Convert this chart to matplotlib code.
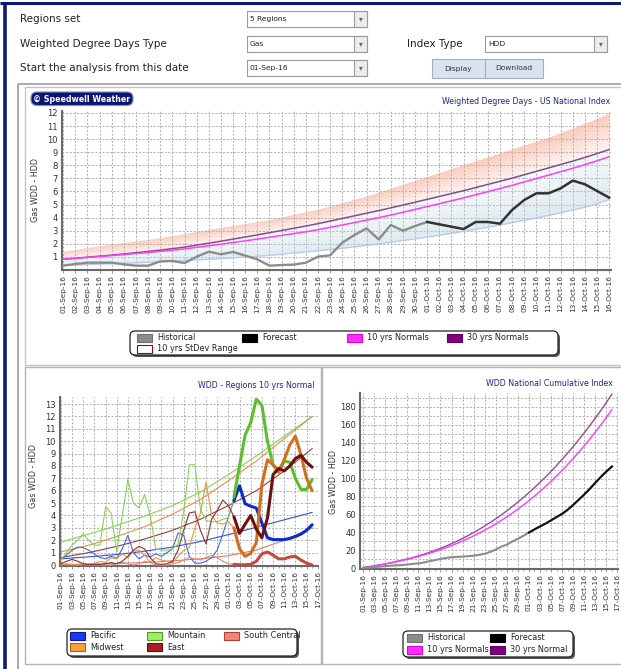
import numpy as np
import pandas as pd
import matplotlib
matplotlib.use("Agg")
import matplotlib.pyplot as plt
from matplotlib.patches import Rectangle, FancyBboxPatch

plt.rcParams['font.family'] = ['DejaVu Sans']
W, H = 621, 669

# ---------------- data ----------------
all_days = pd.date_range('2016-09-01', '2016-10-17')
day_labels = [d.strftime('%d-%b-%y') for d in all_days]      # 47 axis categories
top_labels = day_labels[:46]

historical = [0.33, 0.46, 0.56, 0.56, 0.56, 0.43, 0.33, 0.33, 0.66, 0.69, 0.53, 1.02, 1.4, 1.2,
              1.38, 1.1, 0.81, 0.33, 0.38, 0.41, 0.56, 1.02, 1.12, 2.09, 2.67, 3.18, 2.34, 3.44,
              3.0, 3.36, 3.67]
forecast = [3.67, 3.49, 3.31, 3.13, 3.67, 3.67, 3.54, 4.59, 5.35, 5.86, 5.86, 6.24, 6.83, 6.55,
            6.04, 5.53]
normals_30 = [0.82, 0.9, 0.98, 1.06, 1.14, 1.23, 1.32, 1.42, 1.52, 1.63, 1.75, 1.9, 2.05, 2.2,
              2.36, 2.52, 2.68, 2.85, 3.02, 3.19, 3.36, 3.54, 3.74, 3.94, 4.14, 4.34, 4.54, 4.75,
              4.96, 5.18, 5.4, 5.62, 5.84, 6.06, 6.3, 6.54, 6.78, 7.02, 7.28, 7.54, 7.8, 8.06,
              8.32, 8.6, 8.9, 9.2]
normals_10 = [0.82, 0.89, 0.96, 1.03, 1.10, 1.18, 1.26, 1.34, 1.42, 1.51, 1.61, 1.73, 1.85, 1.97,
              2.10, 2.23, 2.36, 2.50, 2.64, 2.78, 2.92, 3.08, 3.26, 3.44, 3.62, 3.81, 4.00, 4.20,
              4.41, 4.63, 4.85, 5.07, 5.29, 5.51, 5.75, 5.99, 6.23, 6.47, 6.73, 6.99, 7.25, 7.51,
              7.77, 8.05, 8.35, 8.65]
stdev_high = [1.45, 1.58, 1.72, 1.85, 1.98, 2.1, 2.22, 2.35, 2.48, 2.62, 2.78, 2.95, 3.1, 3.25,
              3.4, 3.55, 3.7, 3.85, 4.05, 4.25, 4.45, 4.65, 4.9, 5.15, 5.4, 5.65, 5.95, 6.25, 6.55,
              6.85, 7.15, 7.45, 7.75, 8.05, 8.35, 8.65, 8.95, 9.25, 9.55, 9.85, 10.15, 10.5, 10.85,
              11.2, 11.6, 12.0]
stdev_low = [0.35, 0.38, 0.42, 0.45, 0.48, 0.52, 0.55, 0.59, 0.63, 0.67, 0.72, 0.77, 0.82, 0.87,
             0.93, 0.99, 1.05, 1.12, 1.2, 1.3, 1.38, 1.47, 1.56, 1.66, 1.77, 1.88, 2.0, 2.12, 2.25,
             2.38, 2.52, 2.66, 2.8, 2.95, 3.11, 3.27, 3.44, 3.62, 3.8, 3.98, 4.17, 4.37, 4.58, 4.8,
             5.05, 5.4]

# regional values (index 0..45); forecast part starts at index 31
pacific = [0.45, 0.8, 1.2, 1.45, 1.4, 1.2, 0.9, 0.6, 0.5, 0.7, 0.55, 1.3, 2.4, 1.0, 0.5, 0.8, 0.65,
           0.9, 0.7, 1.0, 1.3, 2.6, 2.4, 0.7, 0.15, 0.15, 0.3, 0.6, 1.2, 2.5, 3.9, 5.2, 6.4, 4.95,
           4.75, 4.6, 3.4, 2.2, 2.05, 2.05, 2.05, 2.15, 2.3, 2.5, 2.8, 3.25]
mountain = [0.4, 1.0, 1.6, 2.0, 2.5, 2.0, 1.6, 1.6, 4.7, 4.2, 1.1, 4.0, 6.9, 5.0, 4.6, 5.7, 4.0,
            1.3, 1.2, 1.2, 1.3, 1.7, 4.3, 8.1, 8.1, 4.5, 3.6, 3.5, 3.5, 3.7, 3.8, 5.5, 8.0, 10.5,
            11.5, 13.4, 12.9, 10.0, 8.1, 7.6, 8.4, 8.3, 7.0, 6.1, 6.1, 6.9]
south_central = [0.0, 0.05, 0.0, 0.0, 0.05, 0.0, 0.0, 0.0, 0.0, 0.0, 0.1, 0.2, 0.1, 0.0, 0.1, 0.3,
                 0.2, 0.0, 0.0, 0.0, 0.1, 0.2, 0.4, 0.6, 0.5, 0.4, 0.6, 0.8, 0.6, 0.3, 0.1, 0.05,
                 0.02, 0.02, 0.05, 0.3, 0.9, 1.05, 0.8, 0.5, 0.5, 0.65, 0.7, 0.4, 0.15, 0.0]
midwest = [0.05, 0.1, 0.05, 0.05, 0.1, 0.05, 0.1, 0.3, 0.2, 0.6, 0.5, 0.9, 0.6, 1.1, 1.2, 0.8, 0.2,
           0.6, 0.4, 0.3, 0.2, 0.7, 1.2, 1.4, 3.0, 4.2, 6.7, 4.0, 3.4, 3.3, 3.5, 3.0, 1.3, 0.7,
           0.95, 1.8, 6.5, 8.5, 8.1, 7.5, 8.5, 9.7, 10.4, 8.9, 7.0, 6.0]
east = [0.1, 0.3, 0.45, 0.3, 0.1, 0.05, 0.05, 0.05, 0.1, 0.2, 0.1, 0.3, 0.7, 1.2, 1.5, 1.3, 0.6,
        0.1, 0.05, 0.1, 0.3, 1.2, 2.8, 4.2, 4.3, 2.8, 1.7, 3.7, 4.4, 5.25, 4.8, 3.9, 2.55, 3.3,
        4.0, 2.9, 2.2, 3.8, 7.3, 7.8, 7.6, 8.0, 8.6, 8.85, 8.3, 7.9]

pacific_normal = [0.5, 0.53, 0.56, 0.6, 0.63, 0.66, 0.7, 0.73, 0.77, 0.81, 0.85, 0.9, 0.95, 1.0,
                  1.06, 1.12, 1.18, 1.25, 1.31, 1.38, 1.45, 1.54, 1.63, 1.72, 1.81, 1.9, 2.01,
                  2.12, 2.23, 2.34, 2.45, 2.57, 2.69, 2.81, 2.93, 3.05, 3.17, 3.29, 3.41, 3.53,
                  3.65, 3.77, 3.89, 4.01, 4.13, 4.25]
mountain_normal = [1.85, 1.98, 2.11, 2.24, 2.37, 2.5, 2.64, 2.78, 2.92, 3.06, 3.2, 3.35, 3.5,
                   3.65, 3.8, 3.95, 4.12, 4.29, 4.46, 4.63, 4.8, 5.02, 5.24, 5.46, 5.68, 5.9,
                   6.18, 6.46, 6.74, 7.02, 7.3, 7.6, 7.9, 8.2, 8.5, 8.8, 9.12, 9.44, 9.76, 10.08,
                   10.4, 10.72, 11.04, 11.36, 11.68, 12.0]
south_central_normal = [0.02, 0.03, 0.04, 0.05, 0.06, 0.07, 0.08, 0.09, 0.1, 0.11, 0.12, 0.14,
                        0.15, 0.17, 0.18, 0.2, 0.22, 0.25, 0.28, 0.31, 0.34, 0.37, 0.4, 0.44,
                        0.47, 0.5, 0.55, 0.6, 0.65, 0.7, 0.75, 0.84, 0.93, 1.02, 1.11, 1.2, 1.36,
                        1.52, 1.68, 1.84, 2.0, 2.2, 2.4, 2.6, 2.8, 3.0]
midwest_normal = [1.05, 1.16, 1.27, 1.38, 1.49, 1.6, 1.74, 1.88, 2.02, 2.16, 2.3, 2.46, 2.62,
                  2.78, 2.94, 3.1, 3.3, 3.5, 3.7, 3.9, 4.1, 4.34, 4.58, 4.82, 5.06, 5.3, 5.6, 5.9,
                  6.2, 6.5, 6.8, 7.12, 7.44, 7.76, 8.08, 8.4, 8.76, 9.12, 9.48, 9.84, 10.2, 10.56,
                  10.92, 11.28, 11.64, 12.0]
east_normal = [0.6, 0.68, 0.76, 0.84, 0.92, 1.0, 1.1, 1.2, 1.3, 1.4, 1.5, 1.62, 1.74, 1.86, 1.98,
               2.1, 2.24, 2.38, 2.52, 2.66, 2.8, 2.98, 3.16, 3.34, 3.52, 3.7, 3.92, 4.14, 4.36,
               4.58, 4.8, 5.04, 5.28, 5.52, 5.76, 6.0, 6.32, 6.64, 6.96, 7.28, 7.6, 7.96, 8.32,
               8.68, 9.04, 9.4]

# ---------------- helpers ----------------
fig = plt.figure(figsize=(W / 100, H / 100), dpi=100)
bg = fig.add_axes([0, 0, 1, 1])
bg.set_xlim(0, W)
bg.set_ylim(H, 0)
bg.axis('off')
bg.set_zorder(0)


def rect(x0, y0, x1, y1):
    return [x0 / W, 1 - y1 / H, (x1 - x0) / W, (y1 - y0) / H]


TXT = '#222222'
TITLE = '#1c2a8a'
GRID = dict(color='#b4b4b4', linestyle=(0, (2, 1.5)), linewidth=0.75)

# ---------------- frames ----------------
bg.add_patch(Rectangle((0, 0), W, H, fc='white', ec='none'))
bg.plot([0, W], [3, 3], color='#0b1a72', lw=2.2, solid_capstyle='butt')
bg.plot([4.5, 4.5], [2, H], color='#0b1a72', lw=2.6, solid_capstyle='butt')
bg.add_patch(Rectangle((18, 83.5), W, H, fc='none', ec='#9c9c9c', lw=1.2))
bg.add_patch(Rectangle((25, 87), W, 278, fc='none', ec='#c4c4c4', lw=1.0))
bg.add_patch(Rectangle((25, 367), 296, 297, fc='none', ec='#b4b4b4', lw=1.0))
bg.add_patch(Rectangle((322, 367), W, 297, fc='none', ec='#b4b4b4', lw=1.0))

# ---------------- form widgets ----------------
for txt, y in [('Regions set', 19), ('Weighted Degree Days Type', 44),
               ('Start the analysis from this date', 68)]:
    bg.text(20, y, txt, fontsize=7.5, color=TXT, va='center', ha='left')
bg.text(407, 44, 'Index Type', fontsize=7.5, color=TXT, va='center', ha='left')


def dropdown(x0, y0, x1, y1, text):
    bg.add_patch(Rectangle((x0, y0), x1 - x0, y1 - y0, fc='white', ec='#9a9a9a', lw=0.8))
    bg.add_patch(Rectangle((x1 - 13, y0), 13, y1 - y0, fc='#ececec', ec='#9a9a9a', lw=0.8))
    bg.text(x1 - 6.5, (y0 + y1) / 2, '\u25BE', fontsize=5.5, color='#666666', ha='center', va='center')
    bg.text(x0 + 3, (y0 + y1) / 2, text, fontsize=5.4, color=TXT, ha='left', va='center')


dropdown(247, 11, 367, 27, '5 Regions')
dropdown(247, 36, 367, 52, 'Gas')
dropdown(247, 60, 367, 76, '01-Sep-16')
dropdown(485, 36, 607, 52, 'HDD')
for x0, x1, t in [(432, 485, 'Display'), (485, 543, 'Download')]:
    bg.add_patch(Rectangle((x0, 59), x1 - x0, 19, fc='#dbe4ee', ec='#9fb0c4', lw=0.8))
    bg.text((x0 + x1) / 2, 68.5, t, fontsize=5.4, color='#333333', ha='center', va='center')

# ---------------- top chart ----------------
idx = np.arange(46)
n30 = np.array(normals_30)
n10 = np.array(normals_10)
hi = np.array(stdev_high)
lo = np.array(stdev_low)

ax1 = fig.add_axes(rect(62, 111, 611, 270))
ax1.set_zorder(1)
ax1.set_xlim(-0.1, 45.15)
ax1.set_ylim(0, 12.15)
nstrip = 24
for k in range(nstrip):
    t0, t1 = k / nstrip, (k + 1) / nstrip
    ax1.fill_between(idx, n30 + (hi - n30) * t0, n30 + (hi - n30) * t1,
                     color='#f39b80', alpha=0.08 + 0.45 * t1, lw=0, zorder=1)
    ax1.fill_between(idx, n30 - (n30 - lo) * t0, n30 - (n30 - lo) * t1,
                     color='#b9d3de', alpha=0.12 + 0.35 * t1, lw=0, zorder=1)
ax1.plot(idx, lo, color='#b7c6f2', lw=0.9, zorder=2)
ax1.plot(idx, n30, color='#8a4a8a', lw=1.1, zorder=3)
ax1.plot(idx, n10, color='#ff3cff', lw=1.1, zorder=3)
ax1.plot(idx[:31], historical, color='#8c8c8c', lw=1.7, zorder=4)
ax1.plot(idx[30:], forecast, color='#333333', lw=1.8, zorder=4)
ax1.set_xticks(idx)
ax1.set_xticklabels(top_labels, rotation=90, fontsize=5.3, color='#333333')
ax1.set_yticks(range(1, 13))
ax1.set_yticklabels([str(v) for v in range(1, 13)], fontsize=6, color='#333333')
ax1.grid(True, **GRID)
ax1.set_axisbelow(True)


def style_axes(ax):
    for s in ['top', 'right']:
        ax.spines[s].set_visible(False)
    for s in ['left', 'bottom']:
        ax.spines[s].set_color('#6a6a6a')
        ax.spines[s].set_linewidth(1.5)
    ax.tick_params(axis='x', length=2, width=0.6, pad=1.5, color='#888888')
    ax.tick_params(axis='y', length=0, pad=3)


style_axes(ax1)
bg.text(35, 190, 'Gas WDD - HDD', rotation=90, fontsize=5.8, color='#333333', ha='center', va='center')
bg.text(610, 101, 'Weighted Degree Days - US National Index', fontsize=5.7, color=TITLE,
        ha='right', va='center')
bg.add_patch(FancyBboxPatch((31, 92), 102, 13.5, boxstyle='round,pad=0,rounding_size=6',
                            fc='#0b1670', ec='#7f8fc8', lw=0.8))
bg.text(82, 99, '\u00A9 Speedwell Weather', fontsize=5.7, color='white', fontweight='bold',
        ha='center', va='center')


def legend_box(x0, y0, x1, y1):
    bg.add_patch(FancyBboxPatch((x0 + 2, y0 + 2), x1 - x0, y1 - y0,
                                boxstyle='round,pad=0,rounding_size=5', fc='#555555', ec='none'))
    bg.add_patch(FancyBboxPatch((x0, y0), x1 - x0, y1 - y0,
                                boxstyle='round,pad=0,rounding_size=5', fc='white', ec='#222222', lw=0.9))


def legend_item(x, y, fc, ec, label):
    bg.add_patch(Rectangle((x, y - 4), 15, 8, fc=fc, ec=ec, lw=0.8))
    bg.text(x + 20, y, label, fontsize=5.9, color=TXT, ha='left', va='center')


legend_box(130, 331, 558, 355)
legend_item(137, 338, '#8c8c8c', '#707070', 'Historical')
legend_item(242, 338, '#000000', '#000000', 'Forecast')
legend_item(347, 338, '#ff2cff', '#e000e0', '10 yrs Normals')
legend_item(447, 338, '#800080', '#600060', '30 yrs Normals')
legend_item(137, 348.5, 'white', '#800060', '10 yrs StDev Range')

# ---------------- bottom-left regions chart ----------------
ax2 = fig.add_axes(rect(60, 397, 318, 566))
ax2.set_zorder(1)
ax2.set_xlim(-0.15, 46.05)
ax2.set_ylim(-0.08, 13.57)
regions = [
    (pacific, pacific_normal, '#4a66e6', '#0a2ccc', '#3352e0'),
    (mountain, mountain_normal, '#86d456', '#5cbf2a', '#86d456'),
    (south_central, south_central_normal, '#e58878', '#c8483a', '#e07868'),
    (midwest, midwest_normal, '#e99545', '#d0701e', '#e8904c'),
    (east, east_normal, '#8e3030', '#6e1010', '#96403c'),
]
for vals, norm, thin_c, thick_c, norm_c in regions:
    ax2.plot(idx, norm, color=norm_c, lw=0.8, zorder=2)
    ax2.plot(idx[:32], vals[:32], color=thin_c, lw=0.8, zorder=3)
    ax2.plot(idx[31:], vals[31:], color=thick_c, lw=2.2, zorder=4, solid_capstyle='round')
ax2.set_xticks(np.arange(0, 47, 2))
ax2.set_xticklabels(day_labels[::2], rotation=90, fontsize=5.3, color='#333333')
ax2.set_xticks(np.arange(47), minor=True)
ax2.tick_params(axis='x', which='minor', length=1.5, color='#999999')
ax2.set_yticks(range(0, 14))
ax2.set_yticklabels([str(v) for v in range(0, 14)], fontsize=6, color='#333333')
ax2.grid(True, which='major', **GRID)
ax2.set_axisbelow(True)
style_axes(ax2)
bg.text(33, 476, 'Gas WDD - HDD', rotation=90, fontsize=5.8, color='#333333', ha='center', va='center')
bg.text(314, 386, 'WDD - Regions 10 yrs Normal', fontsize=5.7, color=TITLE, ha='right', va='center')

legend_box(67, 629, 297, 656)
legend_item(70, 636, '#1a3cf0', '#0a1a90', 'Pacific')
legend_item(147, 636, '#9ef060', '#50a020', 'Mountain')
legend_item(224, 636, '#f4857a', '#b04030', 'South Central')
legend_item(70, 647, '#f4a040', '#b06010', 'Midwest')
legend_item(147, 647, '#a82020', '#601010', 'East')

# ---------------- bottom-right cumulative chart ----------------
hist_cum = np.cumsum(historical)
fc_cum = hist_cum[-1] + np.concatenate([[0.0], np.cumsum(forecast[1:])])
n10_cum = np.cumsum(n10)
n30_cum = np.cumsum(n30)

ax3 = fig.add_axes(rect(360, 393, 618, 569))
ax3.set_zorder(1)
ax3.set_xlim(-0.55, 46.1)
ax3.set_ylim(-0.8, 195.6)
ax3.plot(idx, n30_cum, color='#9a4a9a', lw=1.0, zorder=3)
ax3.plot(idx, n10_cum, color='#ff3cff', lw=1.0, zorder=3)
ax3.plot(idx[:31], hist_cum, color='#8c8c8c', lw=1.5, zorder=4)
ax3.plot(idx[30:], fc_cum, color='#111111', lw=1.6, zorder=4)
ax3.set_xticks(np.arange(0, 47, 2))
ax3.set_xticklabels(day_labels[::2], rotation=90, fontsize=5.3, color='#333333')
ax3.set_xticks(np.arange(47), minor=True)
ax3.tick_params(axis='x', which='minor', length=1.5, color='#999999')
ax3.set_yticks(range(0, 181, 20))
ax3.set_yticklabels([str(v) for v in range(0, 181, 20)], fontsize=6, color='#333333')
ax3.set_yticks(range(0, 196, 10), minor=True)
ax3.tick_params(axis='y', which='minor', length=0)
ax3.grid(True, which='both', axis='y', **GRID)
ax3.grid(True, which='major', axis='x', **GRID)
ax3.set_axisbelow(True)
style_axes(ax3)
bg.text(333, 482, 'Gas WDD - HDD', rotation=90, fontsize=5.8, color='#333333', ha='center', va='center')
bg.text(613, 383, 'WDD National Cumulative Index', fontsize=5.7, color=TITLE, ha='right', va='center')

legend_box(403, 631, 573, 657)
legend_item(407, 638, '#8c8c8c', '#707070', 'Historical')
legend_item(490, 638, '#000000', '#000000', 'Forecast')
legend_item(407, 650, '#ff2cff', '#e000e0', '10 yrs Normals')
legend_item(490, 650, '#800080', '#600060', '30 yrs Normal')

fig.savefig('out.png', dpi=100)
